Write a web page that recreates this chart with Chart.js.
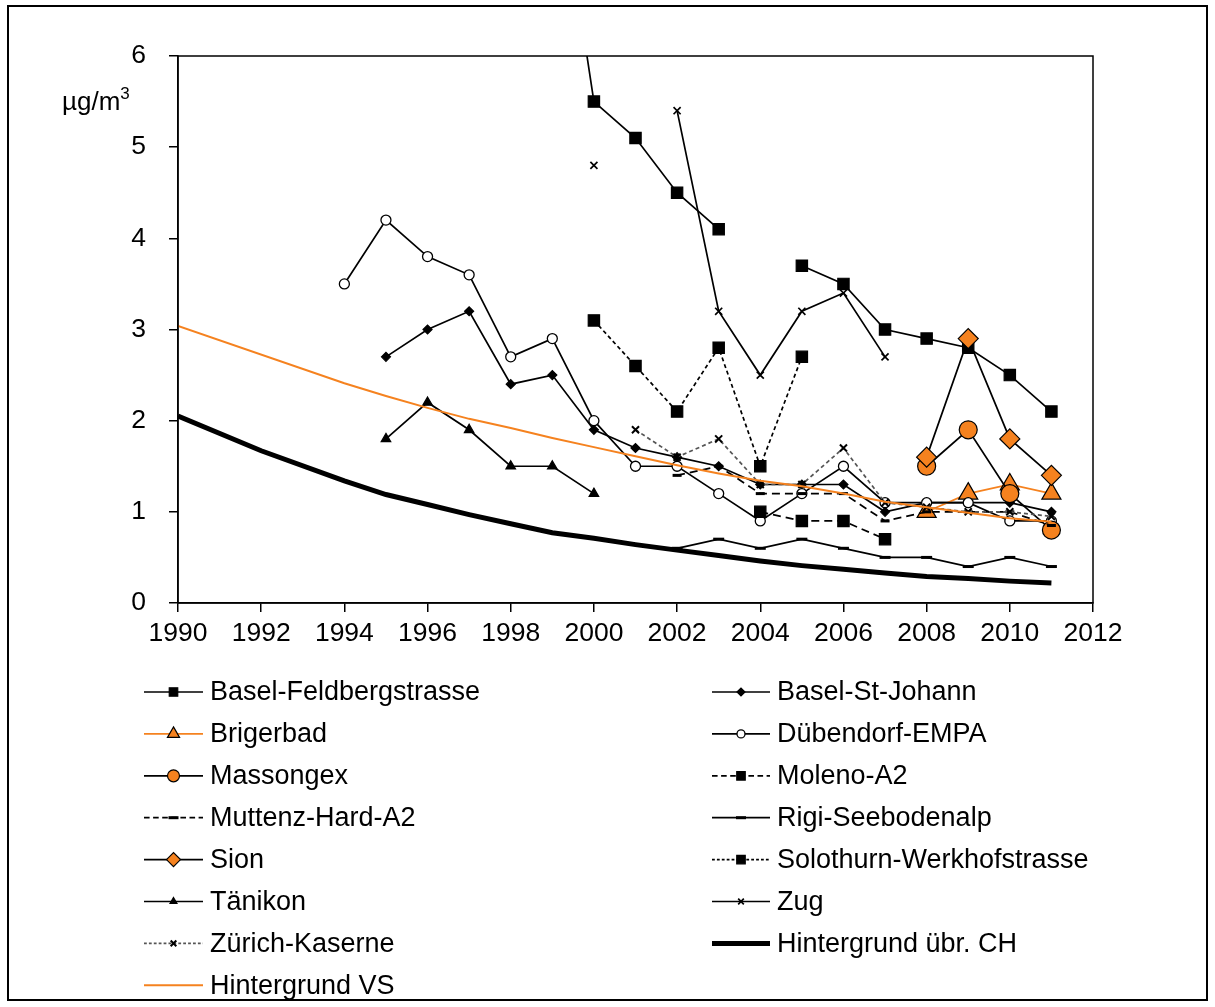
<!DOCTYPE html>
<html>
<head>
<meta charset="utf-8">
<script src="https://cdn.jsdelivr.net/npm/chart.js@4/dist/chart.umd.min.js"></script>
<style>
  html, body { margin: 0; padding: 0; background: #fff; }
  #wrap { position: absolute; left: 0; top: 0; width: 1215px; height: 1007px; }
</style>
</head>
<body>
<div id="wrap"><canvas id="myChart" width="1215" height="1007"></canvas></div>
<script>
var years = [1990, 1991, 1992, 1993, 1994, 1995, 1996, 1997, 1998, 1999, 2000,
             2001, 2002, 2003, 2004, 2005, 2006, 2007, 2008, 2009, 2010, 2011];
var xTicks = [1990, 1992, 1994, 1996, 1998, 2000, 2002, 2004, 2006, 2008, 2010, 2012];
var yTicks = [0, 1, 2, 3, 4, 5, 6];

var baselFeldberg = [null, null, null, null, null, null, null, null, null, 8.5, 5.5, 5.1, 4.5, 4.1, null, 3.7, 3.5, 3.0, 2.9, 2.8, 2.5, 2.1];
var baselStJohann = [null, null, null, null, null, 2.7, 3.0, 3.2, 2.4, 2.5, 1.9, 1.7, 1.6, 1.5, 1.3, 1.3, 1.3, 1.0, 1.1, 1.1, 1.1, 1.0];
var brigerbad = [null, null, null, null, null, null, null, null, null, null, null, null, null, null, null, null, null, null, 1.0, 1.2, 1.3, 1.2];
var duebendorf = [null, null, null, null, 3.5, 4.2, 3.8, 3.6, 2.7, 2.9, 2.0, 1.5, 1.5, 1.2, 0.9, 1.2, 1.5, 1.1, 1.1, 1.1, 0.9, 0.9];
var massongex = [null, null, null, null, null, null, null, null, null, null, null, null, null, null, null, null, null, null, 1.5, 1.9, 1.2, 0.8];
var moleno = [null, null, null, null, null, null, null, null, null, null, null, null, null, null, 1.0, 0.9, 0.9, 0.7, null, null, null, null];
var muttenz = [null, null, null, null, null, null, null, null, null, null, null, null, 1.4, 1.5, 1.2, 1.2, 1.2, 0.9, 1.0, 1.0, 1.0, 0.85];
var rigi = [null, null, null, null, null, null, null, null, null, null, null, null, 0.6, 0.7, 0.6, 0.7, 0.6, 0.5, 0.5, 0.4, 0.5, 0.4];
var sion = [null, null, null, null, null, null, null, null, null, null, null, null, null, null, null, null, null, null, 1.6, 2.9, 1.8, 1.4];
var solothurn = [null, null, null, null, null, null, null, null, null, null, 3.1, 2.6, 2.1, 2.8, 1.5, 2.7, null, null, null, null, null, null];
var taenikon = [null, null, null, null, null, 1.8, 2.2, 1.9, 1.5, 1.5, 1.2, null, null, null, null, null, null, null, null, null, null, null];
var zug = [null, null, null, null, null, null, null, null, null, null, 4.8, null, 5.4, 3.2, 2.5, 3.2, 3.4, 2.7, null, null, null, null];
var zuerich = [null, null, null, null, null, null, null, null, null, null, null, 1.9, 1.6, 1.8, 1.3, 1.3, 1.7, 1.1, 1.05, 1.0, 1.0, 0.95];
var hgCH = [2.05, null, 1.67, null, 1.34, 1.19, 1.08, 0.97, 0.87, 0.77, 0.71, 0.64, 0.58, 0.52, 0.46, 0.41, 0.37, 0.33, 0.29, 0.27, 0.24, 0.22];
var hgVS = [3.04, null, null, null, 2.41, 2.27, 2.14, 2.02, 1.92, 1.81, 1.71, 1.61, 1.51, 1.42, 1.34, 1.28, 1.2, 1.11, 1.05, 0.99, 0.93, 0.89];

var black = "#000000",
    orange = "#f5821f",
    grey = "#555555",
    fontFamily = '"Liberation Sans", Arial, sans-serif';

function pts(vals) {
	return years.map(function(yr, i) { return { x: yr, y: vals[i] }; });
}

function series(label, vals, o) {
	return {
		label: label,
		data: pts(vals),
		borderColor: o.color || black,
		borderWidth: o.width || 1.7,
		borderDash: o.dash || [],
		pointStyle: o.style || 'circle',
		pointRadius: o.r || 0,
		pointHoverRadius: o.r || 0,
		legendRadius: o.lr || o.r || 0,
		pointBackgroundColor: o.fill || black,
		pointBorderColor: o.pcolor || black,
		pointBorderWidth: o.pw || 1.2,
		spanGaps: o.span || false,
		tension: 0
	};
}

var datasets = [
	series('Basel-Feldbergstrasse', baselFeldberg, { style: 'rect', r: 8, lr: 6 }),
	series('Basel-St-Johann', baselStJohann, { style: 'rectRot', r: 4.5, lr: 4 }),
	series('Brigerbad', brigerbad, { color: orange, style: 'triangle', r: 11, lr: 7, fill: orange }),
	series('Dübendorf-EMPA', duebendorf, { style: 'circle', r: 5, lr: 4, fill: '#ffffff', pw: 1.3 }),
	series('Massongex', massongex, { style: 'circle', r: 9, lr: 6, fill: orange }),
	series('Moleno-A2', moleno, { dash: [8, 5], style: 'rect', r: 8, lr: 6 }),
	series('Muttenz-Hard-A2', muttenz, { dash: [8, 5], style: 'line', r: 4.5, lr: 5, pw: 3 }),
	series('Rigi-Seebodenalp', rigi, { style: 'line', r: 5.5, lr: 5, pw: 3 }),
	series('Sion', sion, { style: 'rectRot', r: 10, lr: 7, fill: orange }),
	series('Solothurn-Werkhofstrasse', solothurn, { dash: [4, 3], style: 'rect', r: 8, lr: 6 }),
	series('Tänikon', taenikon, { style: 'triangle', r: 5.5, lr: 4 }),
	series('Zug', zug, { style: 'crossRot', r: 5, lr: 4, pw: 1.7 }),
	series('Zürich-Kaserne', zuerich, { color: grey, dash: [4, 3], style: 'crossRot', r: 5, lr: 4, pw: 2 }),
	series('Hintergrund übr. CH', hgCH, { width: 5, span: true }),
	series('Hintergrund VS', hgVS, { color: orange, width: 2, span: true })
];
datasets.forEach(function(ds, i) { ds.order = datasets.length - i; });

var extras = {
	id: 'extras',
	afterDraw: function(chart) {
		var ctx = chart.ctx, a = chart.chartArea;
		ctx.save();
		ctx.strokeStyle = black;
		ctx.lineWidth = 1.5;
		ctx.strokeRect(a.left, a.top, a.right - a.left, a.bottom - a.top);
		ctx.lineWidth = 2;
		ctx.strokeRect(8, 6, 1199, 994);

		// unit label
		ctx.fillStyle = black;
		ctx.textBaseline = 'alphabetic';
		ctx.font = '26px ' + fontFamily;
		ctx.fillText('µg/m', 62, 110);
		var w = ctx.measureText('µg/m').width;
		ctx.font = '17px ' + fontFamily;
		ctx.fillText('3', 62 + w, 99);

		// two-column legend
		chart.data.datasets.forEach(function(ds, i) {
			var col = i % 2, row = Math.floor(i / 2);
			var x0 = col ? 712 : 144, x1 = col ? 770 : 203, y = 692 + row * 41.9;
			ctx.beginPath();
			ctx.setLineDash(ds.borderDash.map(function(d) { return d * 0.7; }));
			ctx.strokeStyle = ds.borderColor;
			ctx.lineWidth = ds.borderWidth;
			ctx.moveTo(x0, y);
			ctx.lineTo(x1, y);
			ctx.stroke();
			ctx.setLineDash([]);
			if (ds.legendRadius > 0) {
				ctx.fillStyle = ds.pointBackgroundColor;
				ctx.strokeStyle = ds.pointBorderColor;
				ctx.lineWidth = ds.pointBorderWidth;
				Chart.helpers.drawPoint(ctx, {
					pointStyle: ds.pointStyle,
					radius: ds.legendRadius,
					borderWidth: ds.pointBorderWidth,
					rotation: 0
				}, (x0 + x1) / 2, y);
			}
			ctx.fillStyle = black;
			ctx.textBaseline = 'middle';
			ctx.font = '27px ' + fontFamily;
			ctx.fillText(ds.label, x1 + 7, y + 1);
		});
		ctx.restore();
	}
};

var ctx = document.getElementById('myChart').getContext('2d');
var myChart = new Chart(ctx, {
	type: 'line',
	data: { datasets: datasets },
	plugins: [extras],
	options: {
		responsive: false,
		animation: false,
		events: [],
		layout: { padding: { left: 0, top: 56, right: 122, bottom: 354 } },
		plugins: { legend: { display: false }, tooltip: { enabled: false } },
		scales: {
			x: {
				type: 'linear',
				min: 1990,
				max: 2012,
				afterBuildTicks: function(axis) { axis.ticks = xTicks.map(function(v) { return { value: v }; }); },
				afterFit: function(axis) { axis.height = 50; },
				grid: { drawOnChartArea: false, drawTicks: true, tickLength: 9, color: black, lineWidth: 1.5 },
				border: { display: true, color: black, width: 1.5 },
				ticks: {
					color: black,
					font: { family: fontFamily, size: 26.5 },
					padding: 6,
					maxRotation: 0,
					autoSkip: false,
					callback: function(v) { return String(v); }
				}
			},
			y: {
				min: 0,
				max: 6,
				afterBuildTicks: function(axis) { axis.ticks = yTicks.map(function(v) { return { value: v }; }); },
				afterFit: function(axis) { axis.width = 178; },
				grid: { drawOnChartArea: false, drawTicks: true, tickLength: 9, color: black, lineWidth: 1.5 },
				border: { display: true, color: black, width: 1.5 },
				ticks: {
					color: black,
					font: { family: fontFamily, size: 26.5 },
					padding: 23
				}
			}
		}
	}
});
</script>
</body>
</html>
